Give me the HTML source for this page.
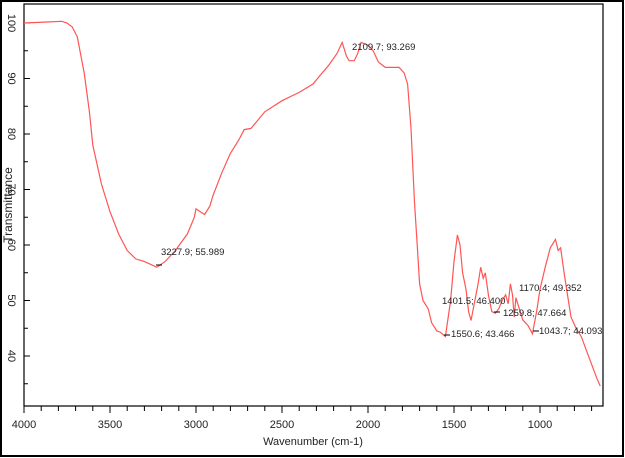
<!DOCTYPE html>
<html><head><meta charset="utf-8"><style>
body{margin:0;background:#fff;}
svg{display:block;font-family:"Liberation Sans",sans-serif;}
</style></head><body>
<svg id="s" width="625" height="458" xmlns="http://www.w3.org/2000/svg">
<rect x="1" y="1" width="622" height="455" fill="#fff" stroke="#000" stroke-width="2"/>
<rect x="24" y="4" width="579" height="402" fill="#fff" stroke="#000" stroke-width="1.2"/>
<g id="ax" stroke="#000" stroke-width="1"></g>
<g id="lab" font-size="11" fill="#222"></g>
<text x="313" y="445" font-size="11" text-anchor="middle" fill="#222">Wavenumber (cm-1)</text>
<text transform="translate(12,205) rotate(-90)" font-size="12" text-anchor="middle" fill="#222">Transmittance</text>
<path id="c" fill="none" stroke="#f55" stroke-width="1.2"/>
<g stroke="#000" stroke-width="1">
<line x1="156" y1="265" x2="162" y2="265"/>
<line x1="444" y1="335" x2="450" y2="335"/>
<line x1="494" y1="312" x2="500" y2="312"/>
<line x1="533" y1="331" x2="539" y2="331"/>
</g>
<g font-size="9.5" fill="#222">
<text x="352" y="50">2109.7; 93.269</text>
<text x="161" y="255">3227.9; 55.989</text>
<text x="442" y="304">1401.5; 46.400</text>
<text x="451" y="337">1550.6; 43.466</text>
<text x="503" y="316">1259.8; 47.664</text>
<text x="519" y="291">1170.4; 49.352</text>
<text x="539" y="334">1043.7; 44.093</text>
</g>
</svg>
<script>
var X=w=>24+(4000-w)*0.172, Y=t=>23+(100-t)*5.55;
var d=[[4000,100],[3850,100.2],[3780,100.3],[3750,100],[3720,99.3],[3690,97.5],[3650,91],[3620,84],[3600,78],[3550,71],[3500,66],[3450,62],[3400,59],[3350,57.5],[3300,57],[3228,56],[3180,57],[3120,59],[3050,62],[3010,65],[3000,66.5],[2975,66],[2950,65.5],[2920,67],[2900,69],[2850,73],[2800,76.5],[2750,79],[2720,80.8],[2680,81],[2600,84],[2500,86],[2400,87.5],[2320,89],[2280,90.5],[2230,92.3],[2180,94.5],[2150,96.5],[2125,94],[2110,93.2],[2080,93.2],[2060,94.5],[2040,96.5],[2000,96],[1970,95],[1940,93],[1900,92],[1820,92],[1790,91],[1770,89],[1750,81],[1730,68],[1710,58],[1700,53],[1680,50],[1650,48.5],[1630,46],[1600,44.5],[1580,44.3],[1550,43.5],[1520,50],[1500,57],[1480,61.8],[1465,60],[1450,55],[1430,52],[1415,48],[1401,46.4],[1385,49],[1360,53],[1345,56],[1330,54],[1318,55],[1300,51],[1280,48],[1260,47.7],[1240,48.5],[1220,50],[1200,51],[1185,49.4],[1172,53],[1160,51],[1150,47],[1140,50.5],[1125,49],[1100,46.5],[1070,45.5],[1044,44],[1020,48],[1000,52],[970,56],[940,59.5],[910,61],[895,59],[880,59.5],[860,55],[840,51],[820,47],[790,45],[760,43.5],[730,41],[700,38.5],[670,36],[650,34.6]];
document.getElementById('c').setAttribute('d','M'+d.map(p=>X(p[0]).toFixed(1)+','+Y(p[1]).toFixed(1)).join('L'));
var ax=document.getElementById('ax'),lab=document.getElementById('lab'),ns='http://www.w3.org/2000/svg';
function L(x1,y1,x2,y2){var l=document.createElementNS(ns,'line');l.setAttribute('x1',x1);l.setAttribute('y1',y1);l.setAttribute('x2',x2);l.setAttribute('y2',y2);ax.appendChild(l);}
for(var w=4000;w>=700;w-=100){var x=X(w);L(x,406,x,w%500==0?413:411);if(w%500==0){var t=document.createElementNS(ns,'text');t.setAttribute('x',x);t.setAttribute('y',428);t.setAttribute('text-anchor','middle');t.textContent=w;lab.appendChild(t);}}
for(var v=35;v<=100;v+=5){var y=Y(v);L(24,y,v%10==0?30:28,y);if(v%10==0){var t=document.createElementNS(ns,'text');t.setAttribute('transform','translate(8,'+y+') rotate(90)');t.setAttribute('text-anchor','middle');t.textContent=v;lab.appendChild(t);}}
</script>
</body></html>
